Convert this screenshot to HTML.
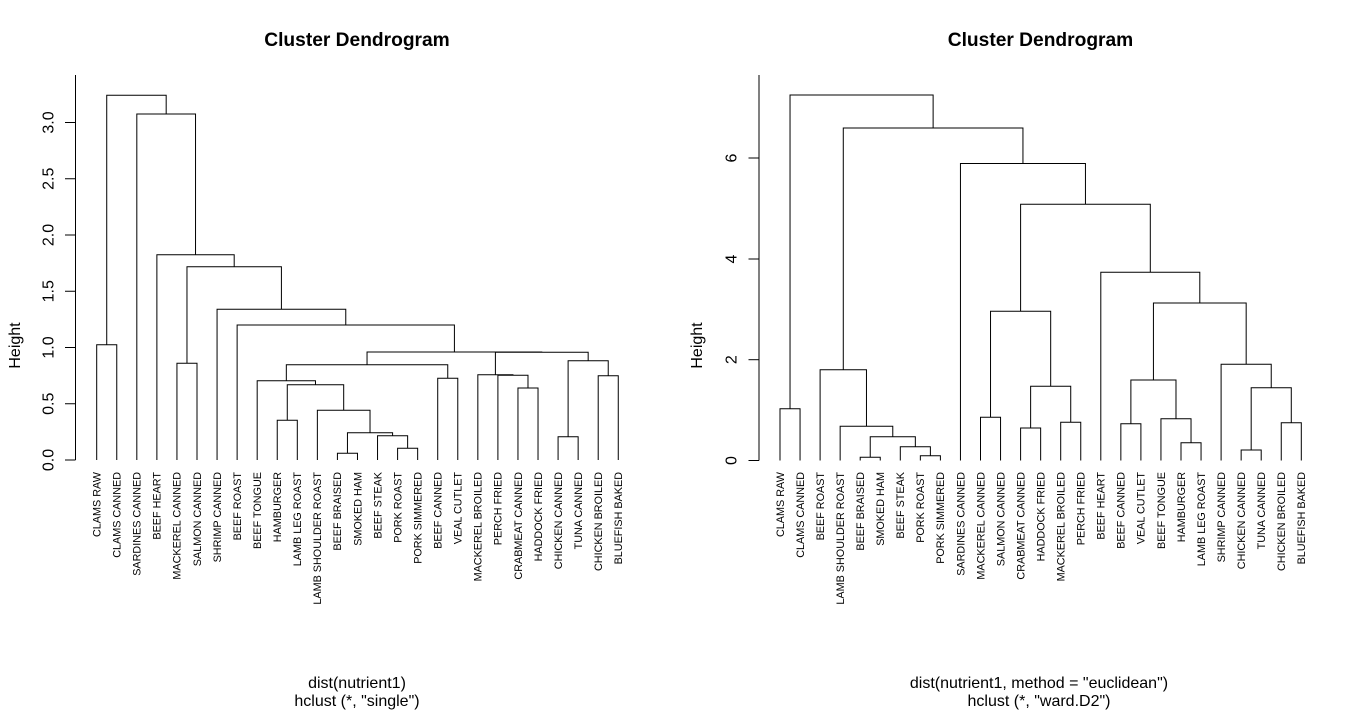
<!DOCTYPE html>
<html>
<head>
<meta charset="utf-8">
<style>
html,body{margin:0;padding:0;background:#fff;}
svg{display:block;}
text{font-family:"Liberation Sans",Arial,sans-serif;fill:#000;}
.t{font-weight:bold;font-size:19.2px;}
.ax{font-size:16px;}
.lf{font-size:10.8px;}
path,line{stroke:#000;stroke-width:1;fill:none;}
</style>
</head>
<body>
<svg width="1355" height="713" viewBox="0 0 1355 713" xmlns="http://www.w3.org/2000/svg">
<rect width="1355" height="713" fill="#fff"/>

<!-- ================= LEFT PLOT ================= -->
<text class="t" x="357" y="46" text-anchor="middle">Cluster Dendrogram</text>

<!-- axis -->
<line x1="75.5" y1="75" x2="75.5" y2="460"/>
<line x1="65" y1="460" x2="75.5" y2="460"/>
<line x1="65" y1="403.75" x2="75.5" y2="403.75"/>
<line x1="65" y1="347.5" x2="75.5" y2="347.5"/>
<line x1="65" y1="291.25" x2="75.5" y2="291.25"/>
<line x1="65" y1="235" x2="75.5" y2="235"/>
<line x1="65" y1="178.75" x2="75.5" y2="178.75"/>
<line x1="65" y1="122.5" x2="75.5" y2="122.5"/>
<g class="ax" text-anchor="middle">
<text class="ax" transform="translate(53.5,460) rotate(-90)">0.0</text>
<text class="ax" transform="translate(53.5,403.75) rotate(-90)">0.5</text>
<text class="ax" transform="translate(53.5,347.5) rotate(-90)">1.0</text>
<text class="ax" transform="translate(53.5,291.25) rotate(-90)">1.5</text>
<text class="ax" transform="translate(53.5,235) rotate(-90)">2.0</text>
<text class="ax" transform="translate(53.5,178.75) rotate(-90)">2.5</text>
<text class="ax" transform="translate(53.5,122.5) rotate(-90)">3.0</text>
<text class="ax" transform="translate(20,345.5) rotate(-90)">Height</text>
</g>

<path d="M337.42 460 V453.3 H357.48 V460"/>
<path d="M397.6 460 V448.3 H417.66 V460"/>
<path d="M377.54 460 V435.7 H407.63 V448.3"/>
<path d="M347.45 453.3 V432.7 H392.59 V435.7"/>
<path d="M317.36 460 V410.3 H370.02 V432.7"/>
<path d="M277.24 460 V420.3 H297.3 V460"/>
<path d="M287.27 420.3 V384.7 H343.69 V410.3"/>
<path d="M257.18 460 V380.7 H315.48 V384.7"/>
<path d="M437.72 460 V378.3 H457.78 V460"/>
<path d="M286.33 380.7 V364.7 H447.75 V378.3"/>
<path d="M517.96 460 V388 H538.02 V460"/>
<path d="M497.9 460 V375.3 H527.99 V388"/>
<path d="M477.84 460 V374.8 H512.95 V375.3"/>
<path d="M558.08 460 V436.7 H578.14 V460"/>
<path d="M598.2 460 V375.7 H618.26 V460"/>
<path d="M568.11 436.7 V360.7 H608.23 V375.7"/>
<path d="M495.4 374.8 V352.3 H588.17 V360.7"/>
<path d="M367.04 364.7 V352 H541.79 V352.3"/>
<path d="M237.12 460 V325 H454.41 V352"/>
<path d="M217.06 460 V309.3 H345.77 V325"/>
<path d="M176.94 460 V363.3 H197 V460"/>
<path d="M186.97 363.3 V266.7 H281.41 V309.3"/>
<path d="M156.88 460 V254.7 H234.19 V266.7"/>
<path d="M136.82 460 V114 H195.53 V254.7"/>
<path d="M96.7 460 V344.7 H116.76 V460"/>
<path d="M106.73 344.7 V95.3 H166.18 V114"/>

<g text-anchor="end">
<text class="lf" transform="translate(100.5,472) rotate(-90)">CLAMS RAW</text>
<text class="lf" transform="translate(120.56,472) rotate(-90)">CLAMS CANNED</text>
<text class="lf" transform="translate(140.62,472) rotate(-90)">SARDINES CANNED</text>
<text class="lf" transform="translate(160.68,472) rotate(-90)">BEEF HEART</text>
<text class="lf" transform="translate(180.74,472) rotate(-90)">MACKEREL CANNED</text>
<text class="lf" transform="translate(200.8,472) rotate(-90)">SALMON CANNED</text>
<text class="lf" transform="translate(220.86,472) rotate(-90)">SHRIMP CANNED</text>
<text class="lf" transform="translate(240.92,472) rotate(-90)">BEEF ROAST</text>
<text class="lf" transform="translate(260.98,472) rotate(-90)">BEEF TONGUE</text>
<text class="lf" transform="translate(281.04,472) rotate(-90)">HAMBURGER</text>
<text class="lf" transform="translate(301.1,472) rotate(-90)">LAMB LEG ROAST</text>
<text class="lf" transform="translate(321.16,472) rotate(-90)">LAMB SHOULDER ROAST</text>
<text class="lf" transform="translate(341.22,472) rotate(-90)">BEEF BRAISED</text>
<text class="lf" transform="translate(361.28,472) rotate(-90)">SMOKED HAM</text>
<text class="lf" transform="translate(381.34,472) rotate(-90)">BEEF STEAK</text>
<text class="lf" transform="translate(401.4,472) rotate(-90)">PORK ROAST</text>
<text class="lf" transform="translate(421.46,472) rotate(-90)">PORK SIMMERED</text>
<text class="lf" transform="translate(441.52,472) rotate(-90)">BEEF CANNED</text>
<text class="lf" transform="translate(461.58,472) rotate(-90)">VEAL CUTLET</text>
<text class="lf" transform="translate(481.64,472) rotate(-90)">MACKEREL BROILED</text>
<text class="lf" transform="translate(501.7,472) rotate(-90)">PERCH FRIED</text>
<text class="lf" transform="translate(521.76,472) rotate(-90)">CRABMEAT CANNED</text>
<text class="lf" transform="translate(541.82,472) rotate(-90)">HADDOCK FRIED</text>
<text class="lf" transform="translate(561.88,472) rotate(-90)">CHICKEN CANNED</text>
<text class="lf" transform="translate(581.94,472) rotate(-90)">TUNA CANNED</text>
<text class="lf" transform="translate(602,472) rotate(-90)">CHICKEN BROILED</text>
<text class="lf" transform="translate(622.06,472) rotate(-90)">BLUEFISH BAKED</text>
</g>

<text class="ax" x="357" y="688" text-anchor="middle">dist(nutrient1)</text>
<text class="ax" x="357" y="706" text-anchor="middle">hclust (*, "single")</text>

<!-- ================= RIGHT PLOT ================= -->
<text class="t" x="1040.5" y="46" text-anchor="middle">Cluster Dendrogram</text>

<line x1="759" y1="75" x2="759" y2="460.5"/>
<line x1="748.5" y1="460.5" x2="759" y2="460.5"/>
<line x1="748.5" y1="359.7" x2="759" y2="359.7"/>
<line x1="748.5" y1="259" x2="759" y2="259"/>
<line x1="748.5" y1="158" x2="759" y2="158"/>
<g text-anchor="middle">
<text class="ax" transform="translate(736.5,460.5) rotate(-90)">0</text>
<text class="ax" transform="translate(736.5,359.7) rotate(-90)">2</text>
<text class="ax" transform="translate(736.5,259) rotate(-90)">4</text>
<text class="ax" transform="translate(736.5,158) rotate(-90)">6</text>
<text class="ax" transform="translate(702,345.5) rotate(-90)">Height</text>
</g>

<path d="M780 460.5 V408.7 H800.05 V460.5"/>
<path d="M860.2 460.5 V457.3 H880.25 V460.5"/>
<path d="M920.35 460.5 V455.7 H940.4 V460.5"/>
<path d="M900.3 460.5 V446.7 H930.38 V455.7"/>
<path d="M870.23 457.3 V436.7 H915.34 V446.7"/>
<path d="M840.15 460.5 V426.3 H892.78 V436.7"/>
<path d="M820.1 460.5 V369.7 H866.47 V426.3"/>
<path d="M980.5 460.5 V417.3 H1000.55 V460.5"/>
<path d="M1020.6 460.5 V428 H1040.65 V460.5"/>
<path d="M1060.7 460.5 V422.3 H1080.75 V460.5"/>
<path d="M1030.63 428 V386.3 H1070.73 V422.3"/>
<path d="M990.53 417.3 V311.3 H1050.68 V386.3"/>
<path d="M1120.85 460.5 V423.7 H1140.9 V460.5"/>
<path d="M1181 460.5 V442.7 H1201.05 V460.5"/>
<path d="M1160.95 460.5 V418.7 H1191.03 V442.7"/>
<path d="M1130.88 423.7 V380 H1175.99 V418.7"/>
<path d="M1241.15 460.5 V450 H1261.2 V460.5"/>
<path d="M1281.25 460.5 V422.7 H1301.3 V460.5"/>
<path d="M1251.18 450 V387.7 H1291.28 V422.7"/>
<path d="M1221.1 460.5 V364.3 H1271.23 V387.7"/>
<path d="M1153.43 380 V303 H1246.17 V364.3"/>
<path d="M1100.8 460.5 V272.3 H1199.8 V303"/>
<path d="M1020.6 311.3 V204.3 H1150.3 V272.3"/>
<path d="M960.45 460.5 V163.5 H1085.45 V204.3"/>
<path d="M843.28 369.7 V128 H1022.95 V163.5"/>
<path d="M790.03 408.7 V95 H933.12 V128"/>

<g text-anchor="end">
<text class="lf" transform="translate(783.8,472) rotate(-90)">CLAMS RAW</text>
<text class="lf" transform="translate(803.85,472) rotate(-90)">CLAMS CANNED</text>
<text class="lf" transform="translate(823.9,472) rotate(-90)">BEEF ROAST</text>
<text class="lf" transform="translate(843.95,472) rotate(-90)">LAMB SHOULDER ROAST</text>
<text class="lf" transform="translate(864,472) rotate(-90)">BEEF BRAISED</text>
<text class="lf" transform="translate(884.05,472) rotate(-90)">SMOKED HAM</text>
<text class="lf" transform="translate(904.1,472) rotate(-90)">BEEF STEAK</text>
<text class="lf" transform="translate(924.15,472) rotate(-90)">PORK ROAST</text>
<text class="lf" transform="translate(944.2,472) rotate(-90)">PORK SIMMERED</text>
<text class="lf" transform="translate(964.25,472) rotate(-90)">SARDINES CANNED</text>
<text class="lf" transform="translate(984.3,472) rotate(-90)">MACKEREL CANNED</text>
<text class="lf" transform="translate(1004.35,472) rotate(-90)">SALMON CANNED</text>
<text class="lf" transform="translate(1024.4,472) rotate(-90)">CRABMEAT CANNED</text>
<text class="lf" transform="translate(1044.45,472) rotate(-90)">HADDOCK FRIED</text>
<text class="lf" transform="translate(1064.5,472) rotate(-90)">MACKEREL BROILED</text>
<text class="lf" transform="translate(1084.55,472) rotate(-90)">PERCH FRIED</text>
<text class="lf" transform="translate(1104.6,472) rotate(-90)">BEEF HEART</text>
<text class="lf" transform="translate(1124.65,472) rotate(-90)">BEEF CANNED</text>
<text class="lf" transform="translate(1144.7,472) rotate(-90)">VEAL CUTLET</text>
<text class="lf" transform="translate(1164.75,472) rotate(-90)">BEEF TONGUE</text>
<text class="lf" transform="translate(1184.8,472) rotate(-90)">HAMBURGER</text>
<text class="lf" transform="translate(1204.85,472) rotate(-90)">LAMB LEG ROAST</text>
<text class="lf" transform="translate(1224.9,472) rotate(-90)">SHRIMP CANNED</text>
<text class="lf" transform="translate(1244.95,472) rotate(-90)">CHICKEN CANNED</text>
<text class="lf" transform="translate(1265,472) rotate(-90)">TUNA CANNED</text>
<text class="lf" transform="translate(1285.05,472) rotate(-90)">CHICKEN BROILED</text>
<text class="lf" transform="translate(1305.1,472) rotate(-90)">BLUEFISH BAKED</text>
</g>

<text class="ax" x="1039" y="688" text-anchor="middle">dist(nutrient1, method = "euclidean")</text>
<text class="ax" x="1039" y="706" text-anchor="middle">hclust (*, "ward.D2")</text>
</svg>
</body>
</html>
